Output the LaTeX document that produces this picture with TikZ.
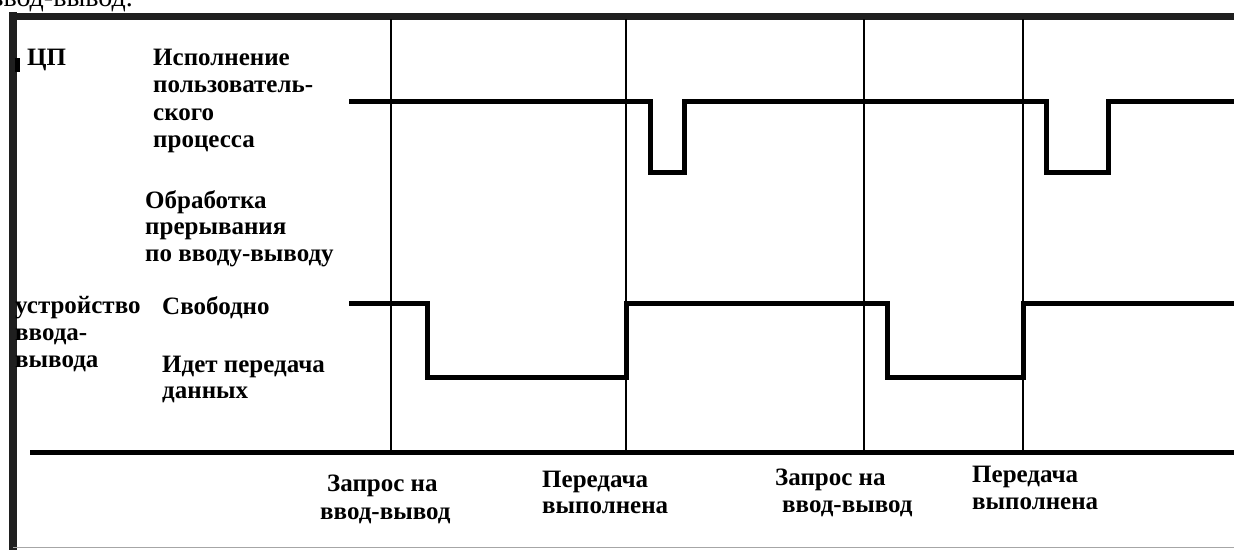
\documentclass[tikz,border=0pt]{standalone}
\usepackage{fontspec}
\setmainfont{Liberation Serif}
\begin{document}
\begin{tikzpicture}[x=1pt,y=-1pt,
  % multi-line labels are placed by the baseline of their last line
  lbl/.style={font=\bfseries\fontsize{25}{27.5}\selectfont, inner sep=0pt,
              anchor=base west, align=left},
  tight/.style={font=\bfseries\fontsize{25}{26.5}\selectfont},
  gridline/.style={line width=2.5pt, black},
  signal/.style={line width=5pt, black, line join=miter},
  frameline/.style={line width=7pt, black!88},
  axisline/.style={line width=5pt, black}]
\useasboundingbox (0,0) rectangle (1234,549);
\fill[white] (0,0) rectangle (1234,549);
\clip (0,0) rectangle (1234,549);

% running text above the figure
\node (run) [font=\fontsize{28}{30}\selectfont, inner sep=0pt, anchor=base east]
  at (133,6) {ввод-вывод.};

% frame
\draw[frameline] (9,16) -- (1240,16);
\draw[frameline, line width=8pt] (13,12) -- (13,552);
\draw[gray!70, line width=1.5pt] (13,547.5) -- (1240,547.5);
\fill[black] (15,58) rectangle (20,72);

% time marks
\coordinate (t1) at (391,19);
\coordinate (t2) at (626,19);
\coordinate (t3) at (864,19);
\coordinate (t4) at (1023,19);
\foreach \t in {t1,t2,t3,t4}
  \draw[gridline] (\t) -- (\t |- 0,452);

% time axis
\draw[axisline] (30,452) -- (1240,452);

% processor activity
\draw[signal] (349,101) -- (650,101) -- (650,172) -- (684,172) -- (684,101)
  -- (1046,101) -- (1046,172) -- (1108,172) -- (1108,101) -- (1240,101);

% device activity
\draw[signal] (349,303) -- (427,303) -- (427,377) -- (626,377) -- (626,303)
  -- (887,303) -- (887,377) -- (1023,377) -- (1023,303) -- (1240,303);

% labels
\node (cpu) [lbl] at (27,65) {ЦП};
\node (user) [lbl] at (153,147.5) {Исполнение\\пользователь-\\ского\\процесса};
\node (irq) [lbl, tight] at (145,261) {Обработка\\прерывания\\по вводу-выводу};
\node (dev) [lbl, font=\bfseries\fontsize{25}{27}\selectfont] at (15,367) {устройство\\ввода-\\вывода};
\node (free) [lbl] at (162,314) {Свободно};
\node (busy) [lbl, tight] at (162,398.5) {Идет передача\\данных};

\node (req1) [lbl] at (320,519) {\hspace*{7pt}Запрос на\\ввод-вывод};
\node (done1) [lbl, tight] at (542,513.5) {Передача\\выполнена};
\node (req2) [lbl] at (775,512.5) {Запрос на\\\hspace*{7pt}ввод-вывод};
\node (done2) [lbl] at (972,509.5) {Передача\\выполнена};
\end{tikzpicture}
\end{document}
